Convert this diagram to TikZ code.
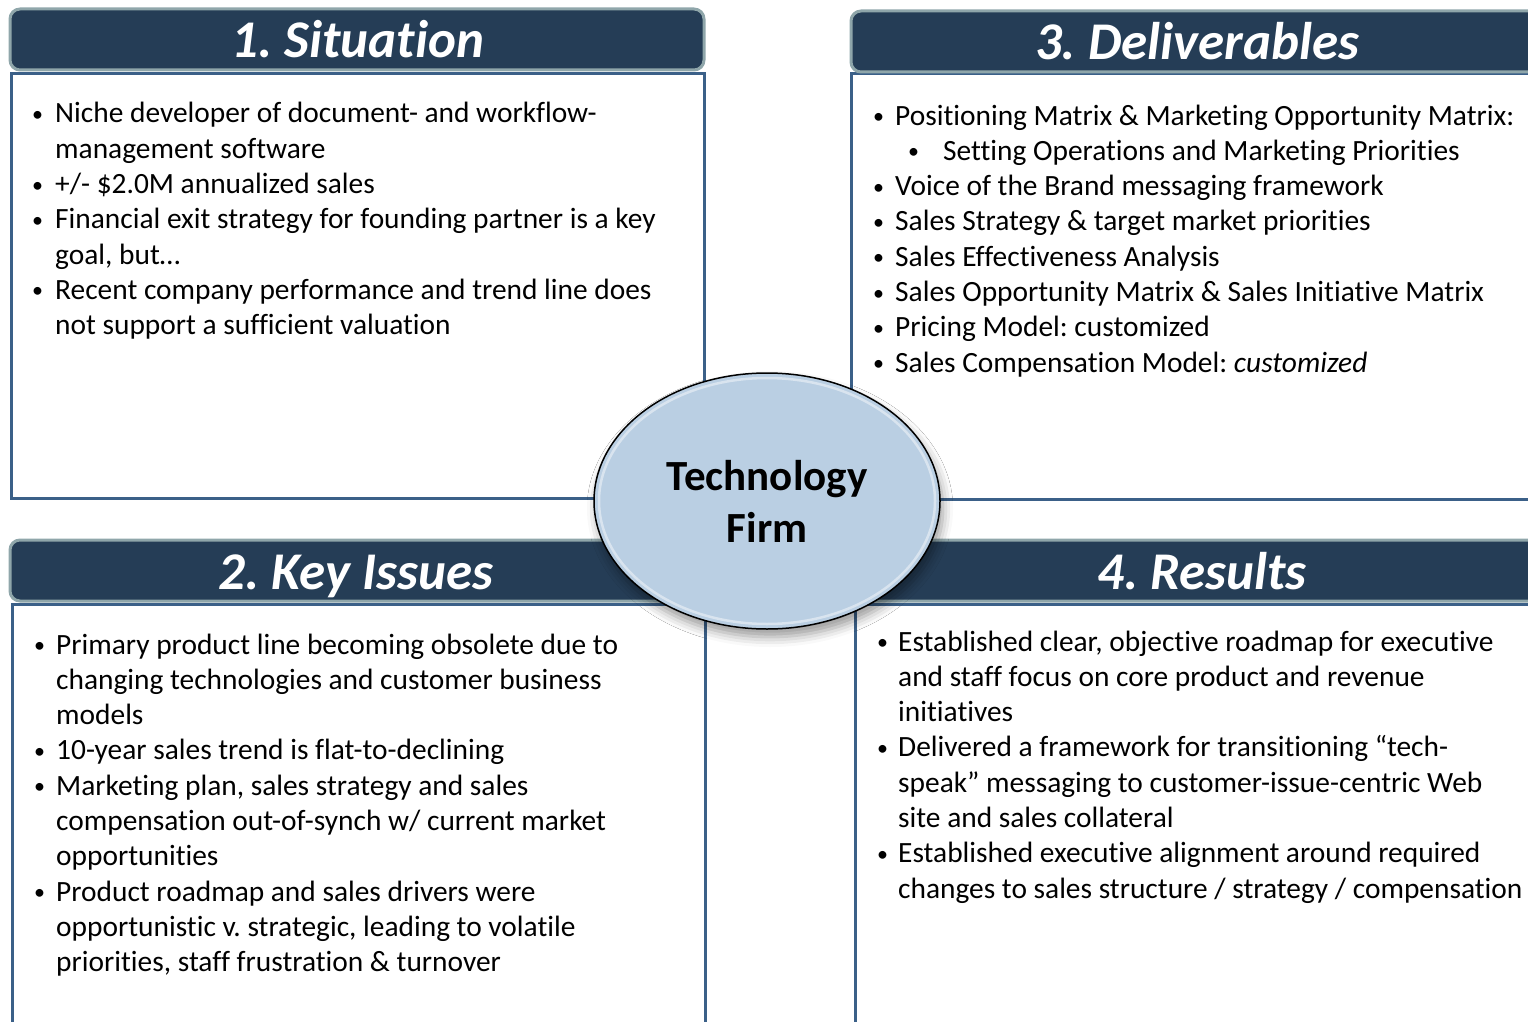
\documentclass[tikz,border=0pt]{standalone}
\usepackage{fontspec}
\setmainfont[Ligatures=NoCommon]{Carlito}
\usetikzlibrary{shapes.geometric,shadows.blur}
\frenchspacing
\definecolor{hdrfill}{HTML}{253D56}
\definecolor{hdredge}{HTML}{8FA6AA}
\definecolor{boxedge}{HTML}{3B6088}
\definecolor{ellfill}{HTML}{BACFE3}
\newcommand{\bul}{\raisebox{1.5pt}{\fontsize{22}{22}\selectfont •}}
\tikzset{
  hdr/.style={draw=hdredge, line width=3pt, fill=hdrfill, rounded corners=10pt},
  panel/.style={draw=boxedge, line width=3pt, fill=white},
  ttl/.style={text=white, font=\fontsize{53}{58}\selectfont\bfseries\itshape, inner sep=0pt, anchor=base},
  body/.style={anchor=base west, inner sep=0pt, font=\fontsize{29.4}{35.3}\selectfont}
}
\begin{document}
\begin{tikzpicture}[x=1pt,y=-1pt]
\useasboundingbox (0,0) rectangle (1528,1022);
\clip (0,0) rectangle (1528,1022);
% panels and headers
\draw[panel] (11,74) rectangle (704,498);
\draw[hdr] (10,9) rectangle (704,70);
\draw[panel] (851,74) rectangle (1570,499);
\draw[hdr] (851,11) rectangle (1543,72);
\draw[panel] (12,604) rectangle (705,1070);
\draw[hdr] (10,540) rectangle (705,601);
\draw[panel] (855,604) rectangle (1570,1070);
\draw[hdr] (855,540) rectangle (1549,601);
% titles
\node[ttl] (t1) at (358,58) {1. Situation};
\node[ttl] (t3) at (1197,60) {3. Deliverables};
\node[ttl] (t2) at (356,589) {2. Key Issues};
\node[ttl] (t4) at (1202,589) {4. Results};
% body texts
\node[body] (b1) at (31,123) {\begin{tabular}[t]{@{}p{24pt}@{}l@{}}
\hspace*{1pt}\bul&Niche developer of document- and workflow-\\
&management software\\
\hspace*{1pt}\bul&+/- \$2.0M annualized sales\\
\hspace*{1pt}\bul&Financial exit strategy for founding partner is a key\\
&goal, but…\\
\hspace*{1pt}\bul&Recent company performance and trend line does\\
&not support a sufficient valuation
\end{tabular}};
\node[body] (b3) at (872,125) {\begin{tabular}[t]{@{}p{23pt}@{}l@{}}
\hspace*{1pt}\bul&Positioning Matrix \& Marketing Opportunity Matrix:\\
\multicolumn{2}{@{}l@{}}{\hspace*{36pt}\makebox[35pt][l]{\bul}Setting Operations and Marketing Priorities}\\
\hspace*{1pt}\bul&Voice of the Brand messaging framework\\
\hspace*{1pt}\bul&Sales Strategy \& target market priorities\\
\hspace*{1pt}\bul&Sales Effectiveness Analysis\\
\hspace*{1pt}\bul&Sales Opportunity Matrix \& Sales Initiative Matrix\\
\hspace*{1pt}\bul&Pricing Model: customized\\
\hspace*{1pt}\bul&Sales Compensation Model: \textit{customized}
\end{tabular}};
\node[body] (b2) at (33,654) {\begin{tabular}[t]{@{}p{23pt}@{}l@{}}
\hspace*{1pt}\bul&Primary product line becoming obsolete due to\\
&changing technologies and customer business\\
&models\\
\hspace*{1pt}\bul&10-year sales trend is flat-to-declining\\
\hspace*{1pt}\bul&Marketing plan, sales strategy and sales\\
&compensation out-of-synch w/ current market\\
&opportunities\\
\hspace*{1pt}\bul&Product roadmap and sales drivers were\\
&opportunistic v. strategic, leading to volatile\\
&priorities, staff frustration \& turnover
\end{tabular}};
\node[body] (b4) at (876,651) {\begin{tabular}[t]{@{}p{22pt}@{}l@{}}
\hspace*{1pt}\bul&Established clear, objective roadmap for executive\\
&and staff focus on core product and revenue\\
&initiatives\\
\hspace*{1pt}\bul&Delivered a framework for transitioning “tech-\\
&speak” messaging to customer-issue-centric Web\\
&site and sales collateral\\
\hspace*{1pt}\bul&Established executive alignment around required\\
&changes to sales structure / strategy / compensation
\end{tabular}};
% central ellipse
\node[ellipse, draw=black, line width=1.5pt, fill=ellfill,
  minimum width=346pt, minimum height=256pt, inner sep=0pt,
  blur shadow={shadow xshift=3pt, shadow yshift=-8pt, shadow blur radius=10pt, shadow opacity=40},
  font=\fontsize{43}{52}\selectfont\bfseries, align=center] (firm) at (767,501) {Technology\\Firm};
\draw[white, opacity=0.45, line width=2.5pt] (firm.center) ellipse [x radius=168, y radius=123];
\end{tikzpicture}
\end{document}
